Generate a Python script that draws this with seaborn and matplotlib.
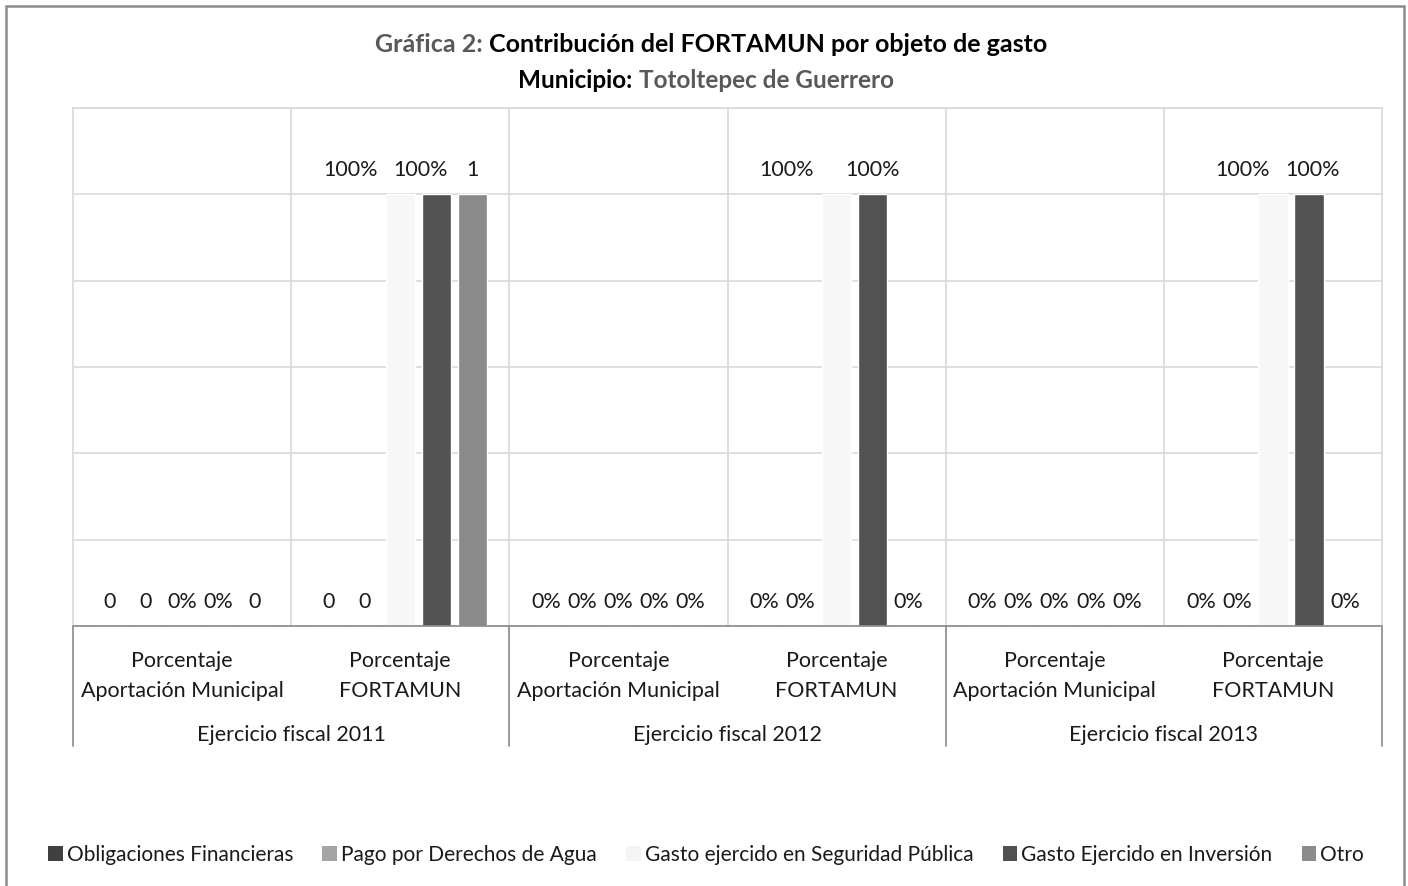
import matplotlib
matplotlib.use("Agg")
import matplotlib.pyplot as plt
import matplotlib.transforms as mtransforms
from matplotlib.patches import Rectangle, Patch
import pandas as pd
import seaborn as sns

# --- data ---
years = ["Ejercicio fiscal 2011", "Ejercicio fiscal 2012", "Ejercicio fiscal 2013"]
conceptos = ["Porcentaje\nAportación Municipal", "Porcentaje\nFORTAMUN"]
series = ["Obligaciones Financieras", "Pago por Derechos de Agua",
          "Gasto ejercido en Seguridad Pública", "Gasto Ejercido en Inversión", "Otro"]

# one value per category: 2011 AM, 2011 F, 2012 AM, 2012 F, 2013 AM, 2013 F
obligaciones = [0, 0, 0, 0, 0, 0]
pago_agua = [0, 0, 0, 0, 0, 0]
seguridad = [0, 1, 0, 1, 0, 1]
inversion = [0, 1, 0, 1, 0, 1]
otro = [0, 1, 0, 0, 0, 0]

# data labels exactly as printed on the chart
labels_obligaciones = ["0", "0", "0%", "0%", "0%", "0%"]
labels_pago = ["0", "0", "0%", "0%", "0%", "0%"]
labels_seguridad = ["0%", "100%", "0%", "100%", "0%", "100%"]
labels_inversion = ["0%", "100%", "0%", "100%", "0%", "100%"]
labels_otro = ["0", "1", "0%", "0%", "0%", "0%"]

colors = ["#525252", "#a5a5a5", "#f7f7f7", "#525252", "#8a8a8a"]
legend_colors = ["#404040", "#a5a5a5", "#f5f5f5", "#505050", "#8c8c8c"]

# label nudges (pixels) where Excel moved labels to avoid overlap
nudges = {(2, 1): -50, (3, 1): -16, (2, 3): -50, (2, 5): -30, (3, 5): 4}

cats = [f"{y}|{c}" for y in years for c in conceptos]
values = [obligaciones, pago_agua, seguridad, inversion, otro]
labels = [labels_obligaciones, labels_pago, labels_seguridad, labels_inversion, labels_otro]

rows = []
for s, vals in zip(series, values):
    for cat, v in zip(cats, vals):
        rows.append({"cat": cat, "serie": s, "valor": v})
df = pd.DataFrame(rows)

sns.set_style("white")
plt.rcParams["font.family"] = ["Lato", "DejaVu Sans"]
TXT = "#1a1a1a"
FS = 15.5

fig = plt.figure(figsize=(14.08, 8.86), dpi=100)
W, H = 1408, 886
ax = fig.add_axes([73 / W, 1 - 626 / H, (1382 - 73) / W, (626 - 108) / H])

sns.barplot(data=df, x="cat", y="valor", hue="serie", order=cats, hue_order=series,
            palette=colors, width=0.826, gap=0.19, saturation=1, errorbar=None,
            legend=False, ax=ax, zorder=2)

ax.set_xlim(-0.5, len(cats) - 0.5)
ax.set_ylim(0, 1.2)
ax.set_yticks([0, 0.2, 0.4, 0.6, 0.8, 1.0, 1.2])
ax.set_yticklabels([])
ax.grid(axis="y", color="#d9d9d9", linewidth=1.2, zorder=0)
for x in range(len(cats) - 1):
    ax.axvline(x + 0.5, color="#d9d9d9", linewidth=1.2, zorder=0)
for side in ["left", "right", "top"]:
    ax.spines[side].set_color("#d9d9d9")
    ax.spines[side].set_linewidth(1.2)
ax.spines["bottom"].set_color("#898989")
ax.spines["bottom"].set_linewidth(1.2)
ax.set_xlabel("")
ax.set_ylabel("")

ax.set_xticks(range(len(cats)))
ax.set_xticklabels([c.split("|")[1] for c in cats], fontsize=FS, color=TXT, linespacing=1.6)
ax.tick_params(axis="both", length=0)
ax.tick_params(axis="x", pad=18)

# data labels
for si, cont in enumerate(ax.containers):
    for ci, bar in enumerate(cont):
        dx = nudges.get((si, ci), 0) * 72 / 100
        ax.annotate(labels[si][ci], (bar.get_x() + bar.get_width() / 2, bar.get_height()),
                    xytext=(dx, 17.5), textcoords="offset points",
                    ha="center", va="center", fontsize=FS, color=TXT)

# group labels and separators below the axis
trans = mtransforms.blended_transform_factory(ax.transData, ax.transAxes)
for gi, y in enumerate(years):
    ax.text(gi * 2 + 0.5, (626 - 735) / 518, y, transform=trans,
            ha="center", va="center", fontsize=FS, color=TXT)
for x in [-0.5, 1.5, 3.5, 5.5]:
    ax.plot([x, x], [0, (626 - 746) / 518], transform=trans, color="#898989",
            linewidth=1.2, clip_on=False)

# legend
handles = [Patch(facecolor=c, edgecolor="none") for c in legend_colors]
fig.legend(handles, series, loc="center", bbox_to_anchor=(706 / W, 1 - 855 / H), ncol=5,
           frameon=False, handlelength=0.7, handleheight=0.7, handletextpad=0.2,
           columnspacing=1.4, fontsize=15, labelcolor=TXT)

# two-colour title lines, centred
def colored_line(parts, y, cx, size):
    texts = [fig.text(0, y, t, color=c, fontsize=size, fontweight="bold", va="center")
             for t, c in parts]
    fig.canvas.draw()
    r = fig.canvas.get_renderer()
    widths = [t.get_window_extent(r).width / W for t in texts]
    x = cx - sum(widths) / 2
    for t, w in zip(texts, widths):
        t.set_x(x)
        x += w

colored_line([("Gráfica 2: ", "#595959"),
              ("Contribución del FORTAMUN por objeto de gasto", "#000000")],
             1 - 45 / H, 711 / W, 18)
colored_line([("Municipio: ", "#000000"), ("Totoltepec de Guerrero", "#595959")],
             1 - 80 / H, 706 / W, 17.5)

# outer chart border
fig.add_artist(Rectangle((6 / W, -0.05), (1404 - 6) / W, 1 - 6 / H + 0.05,
                         transform=fig.transFigure, fill=False,
                         edgecolor="#8c8c8c", linewidth=1.8))

fig.savefig("out.png", dpi=100)
